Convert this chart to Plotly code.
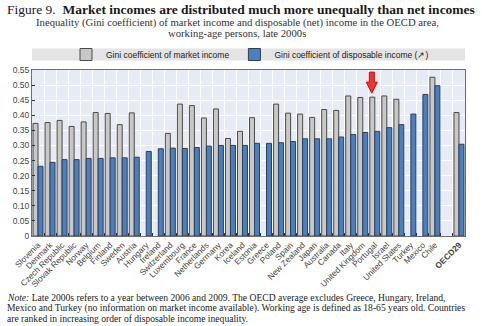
import plotly.graph_objects as go

# Countries ranked by disposable-income inequality; " " is a spacer slot before the OECD average
countries = [
    "Slovenia", "Denmark", "Czech Republic", "Slovak Republic", "Norway", "Belgium",
    "Finland", "Sweden", "Austria", "Hungary", "Ireland", "Switzerland", "Luxembourg",
    "France", "Netherlands", "Germany", "Korea", "Iceland", "Estonia", "Greece",
    "Poland", "Spain", "New Zealand", "Japan", "Australia", "Canada", "Italy",
    "United Kingdom", "Portugal", "Israel", "United States", "Turkey", "Mexico",
    "Chile", " ", "OECD29",
]

# Gini coefficient of market income (None = no information)
gini_market = [
    0.373, 0.376, 0.383, 0.363, 0.378, 0.409,
    0.406, 0.369, 0.408, None, None, 0.340, 0.437,
    0.432, 0.391, 0.421, 0.323, 0.347, 0.392, None,
    0.437, 0.407, 0.404, 0.393, 0.419, 0.416, 0.464,
    0.459, 0.460, 0.464, 0.453, None, None,
    0.526, None, 0.409,
]

# Gini coefficient of disposable income
gini_disposable = [
    0.231, 0.244, 0.253, 0.253, 0.257, 0.257,
    0.259, 0.259, 0.261, 0.280, 0.289, 0.291, 0.290,
    0.293, 0.298, 0.300, 0.300, 0.300, 0.307, 0.307,
    0.309, 0.313, 0.322, 0.322, 0.322, 0.328, 0.336,
    0.343, 0.347, 0.359, 0.369, 0.404, 0.469,
    0.498, None, 0.304,
]

tick_labels = [c if c != "OECD29" else "<b>OECD29</b>" for c in countries]
y_ticks = [0, 0.05, 0.10, 0.15, 0.20, 0.25, 0.30, 0.35, 0.40, 0.45, 0.50, 0.55]
y_tick_text = ["0"] + [f"{v:.2f}" for v in y_ticks[1:]]

highlight = "Portugal"

fig = go.Figure()
fig.add_trace(go.Bar(
    x=countries, y=gini_market, name="Gini coefficient of market income",
    marker=dict(color="#c8c8c8", line=dict(color="#4a4a4a", width=1)),
))
fig.add_trace(go.Bar(
    x=countries, y=gini_disposable, name="Gini coefficient of disposable income (\u2197)",
    marker=dict(color="#4a7fc1", line=dict(color="#2f3f55", width=1)),
))

# Pixel geometry of the plotting area
L, R, T, B = 32, 35, 70, 90
H = 326 - T - B
W = 500 - L - R


def py(px):
    return (326 - B - px) / H


def px_x(px):
    return (px - L) / W


serif = "Liberation Serif, Times New Roman, serif"
sans = "Liberation Sans, Arial, sans-serif"

annotations = [
    dict(text="Figure 9.  <b>Market incomes are distributed much more unequally than net incomes</b>",
         x=px_x(5), y=py(9), xanchor="left", yanchor="middle",
         font=dict(family=serif, size=13.5, color="#1a1a1a")),
    dict(text="Inequality (Gini coefficient) of market income and disposable (net) income in the OECD area,",
         x=px_x(237), y=py(22.5), xanchor="center", yanchor="middle",
         font=dict(family=serif, size=10.7, color="#333333")),
    dict(text="working-age persons, late 2000s",
         x=px_x(237), y=py(33.5), xanchor="center", yanchor="middle",
         font=dict(family=serif, size=10.7, color="#333333")),
    dict(text="<i>Note:</i> Late 2000s refers to a year between 2006 and 2009. The OECD average excludes Greece, Hungary, Ireland,",
         x=px_x(5), y=py(297.5), xanchor="left", yanchor="middle",
         font=dict(family=serif, size=9.6, color="#222222")),
    dict(text="Mexico and Turkey (no information on market income available). Working age is defined as 18-65 years old. Countries",
         x=px_x(5), y=py(308.2), xanchor="left", yanchor="middle",
         font=dict(family=serif, size=9.6, color="#222222")),
    dict(text="are ranked in increasing order of disposable income inequality.",
         x=px_x(5), y=py(318.8), xanchor="left", yanchor="middle",
         font=dict(family=serif, size=9.6, color="#222222")),
]

for a in annotations:
    a.update(xref="paper", yref="paper", showarrow=False)

# Red block arrow above the highlighted country, anchored on its market-income bar
hi = countries.index(highlight)
arrow_path = "M -3,4 L -8.5,15 L -5.5,15 L -5.5,25 L -0.5,25 L -0.5,15 L 2.5,15 Z"

fig.update_layout(
    width=500, height=326,
    margin=dict(l=L, r=R, t=T, b=B, pad=0),
    paper_bgcolor="white",
    plot_bgcolor="#e7ebf6",
    barmode="group", bargap=0.17, bargroupgap=0,
    showlegend=True,
    legend=dict(
        orientation="h", x=px_x(66), y=py(54.5), xanchor="left", yanchor="middle",
        bgcolor="rgba(0,0,0,0)", font=dict(family=sans, size=8.5, color="#222222"),
        traceorder="normal",
    ),
    shapes=[
        dict(type="rect", xref="paper", yref="paper",
             x0=0, x1=1, y0=py(60.5), y1=py(48.5),
             fillcolor="#e4e4e4", line=dict(width=0), layer="below"),
        dict(type="path", xref="x", yref="y",
             xsizemode="pixel", ysizemode="pixel",
             xanchor=hi, yanchor=gini_market[hi],
             path=arrow_path, fillcolor="#ee3535",
             line=dict(color="#d00000", width=1), layer="above"),
    ],
    annotations=annotations,
    xaxis=dict(
        type="category", categoryorder="array", categoryarray=countries,
        tickmode="array", tickvals=countries, ticktext=tick_labels,
        tickangle=-45, tickfont=dict(family=sans, size=8.3, color="#444444"),
        tickson="boundaries", ticks="inside", ticklen=3, tickcolor="#333333",
        showgrid=True, gridcolor="white", gridwidth=1,
        showline=True, linecolor="#6e6e6e", linewidth=1, mirror=True,
        fixedrange=True,
    ),
    yaxis=dict(
        range=[0, 0.55], tickmode="array", tickvals=y_ticks, ticktext=y_tick_text,
        tickfont=dict(family=sans, size=8.5, color="#444444"),
        ticks="inside", ticklen=3, tickcolor="#333333",
        showgrid=True, gridcolor="white", gridwidth=1, zeroline=False,
        showline=True, linecolor="#6e6e6e", linewidth=1, mirror=True,
        fixedrange=True,
    ),
)

fig.write_html("out.html", config={"displayModeBar": False})
